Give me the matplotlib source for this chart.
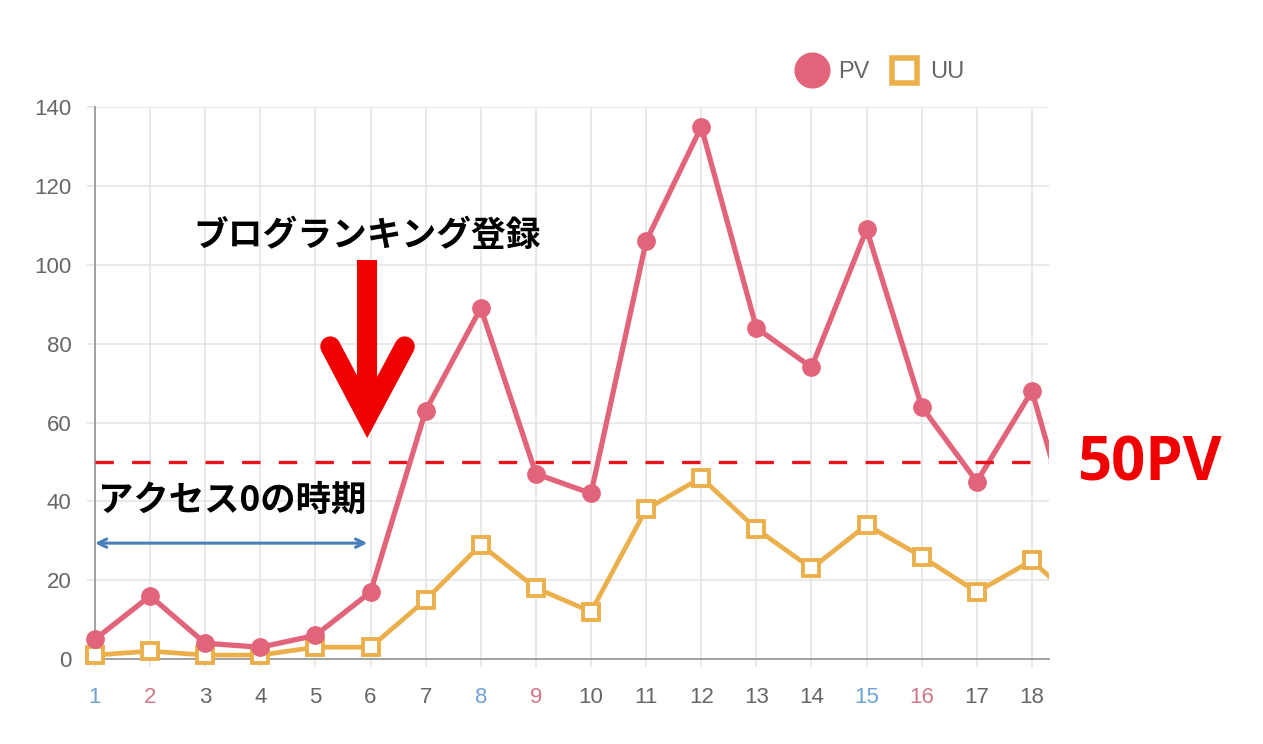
import matplotlib.pyplot as plt
from matplotlib.lines import Line2D

# data (day 19 is only partly visible at the right edge)
days = list(range(1, 20))
pv = [5, 16, 4, 3, 6, 17, 63, 89, 47, 42, 106, 135, 84, 74, 109, 64, 45, 68, 19]
uu = [1, 2, 1, 1, 3, 3, 15, 29, 18, 12, 38, 46, 33, 23, 34, 26, 17, 25, 12]
day_labels = [str(d) for d in days[:18]]
sat_days = [1, 8, 15]
sun_days = [2, 9, 16]
y_ticks = [0, 20, 40, 60, 80, 100, 120, 140]
threshold = 50

PV_COLOR = '#E2647A'
UU_COLOR = '#EBB04B'
GRID = '#E3E3E3'
TICK_COLOR = '#666666'

plt.rcParams['font.family'] = ['Liberation Sans', 'DejaVu Sans']

fig = plt.figure(figsize=(12.63, 7.44), dpi=100)
ax = fig.add_axes([0.0752, 0.1142, 0.7554, 0.7418])

# series lines (clipped at the axes) and markers for the visible days
ax.plot(days, uu, color=UU_COLOR, lw=3.4, zorder=3)
ax.plot(days[:18], uu[:18], ls='none', marker='s', ms=11.5, mfc='white',
        mec=UU_COLOR, mew=2.8, zorder=4, clip_on=False)
ax.plot(days, pv, color=PV_COLOR, lw=3.8, zorder=5)
ax.plot(days[:18], pv[:18], ls='none', marker='o', ms=12.5, mfc=PV_COLOR,
        mec=PV_COLOR, zorder=6, clip_on=False)

ax.set_xlim(1, 18.31)
ax.set_ylim(0, 140)
ax.set_xticks(days[:18])
ax.set_xticklabels(day_labels)
ax.set_yticks(y_ticks)

ax.grid(True, color=GRID, lw=1.1)
ax.set_axisbelow(True)
for side in ['top', 'right']:
    ax.spines[side].set_visible(False)
ax.spines['left'].set_color('#9A9A9A')
ax.spines['bottom'].set_color('#9A9A9A')
ax.spines['left'].set_linewidth(1.3)
ax.spines['bottom'].set_linewidth(1.3)
ax.tick_params(axis='both', colors=GRID, labelcolor=TICK_COLOR, labelsize=16,
               length=6, width=1.1)
ax.tick_params(axis='y', pad=11)
ax.tick_params(axis='x', pad=14)
for lab, d in zip(ax.get_xticklabels(), days[:18]):
    if d in sat_days:
        lab.set_color('#6FA2D6')
    elif d in sun_days:
        lab.set_color('#D27689')

# legend
handles = [Line2D([], [], ls='none', marker='o', ms=25, mfc=PV_COLOR, mec=PV_COLOR),
           Line2D([], [], ls='none', marker='s', ms=18, mfc='white', mec=UU_COLOR, mew=4)]
fig.legend(handles, ['PV', 'UU'], loc='center', bbox_to_anchor=(0.697, 0.903),
           ncol=2, frameon=False, fontsize=17, labelcolor=TICK_COLOR,
           handletextpad=0.45, columnspacing=0.8, handlelength=1.3)

# 50PV threshold
ax.axhline(threshold, color='#E8121C', lw=2.4, ls=(0, (5.5, 5.5)), zorder=7)
ax.text(18.82, threshold - 0.8, '50PV', color='#F00000', fontsize=43, fontweight='bold',
        family=['Open Sans', 'DejaVu Sans'], va='center', ha='left', clip_on=False)

# ranking registration annotation
jp = ['Noto Sans CJK JP', 'DejaVu Sans']
ax.text(5.94, 107.5, 'ブログランキング登録', fontsize=25, fontweight='bold',
        family=jp, ha='center', va='center', color='black')
ax.plot([5.94, 5.94], [101.3, 62], color='#F00000', lw=14.5,
        solid_capstyle='butt', zorder=8)
ax.plot([5.27, 5.94, 6.62], [79.3, 61.5, 79.3], color='#F00000', lw=14.5,
        solid_capstyle='round', solid_joinstyle='miter', zorder=8)

# zero-access period annotation
ax.text(1.05, 40.2, 'アクセス0の時期', fontsize=25.5, fontweight='bold',
        family=jp, ha='left', va='center', color='black')
ax.annotate('', xy=(1.0, 29.4), xytext=(5.94, 29.4),
            arrowprops=dict(arrowstyle='<->, head_length=0.6, head_width=0.3',
                            color='#4A7EBB', lw=2.2, shrinkA=0, shrinkB=0))

fig.savefig('out.png', dpi=100)
